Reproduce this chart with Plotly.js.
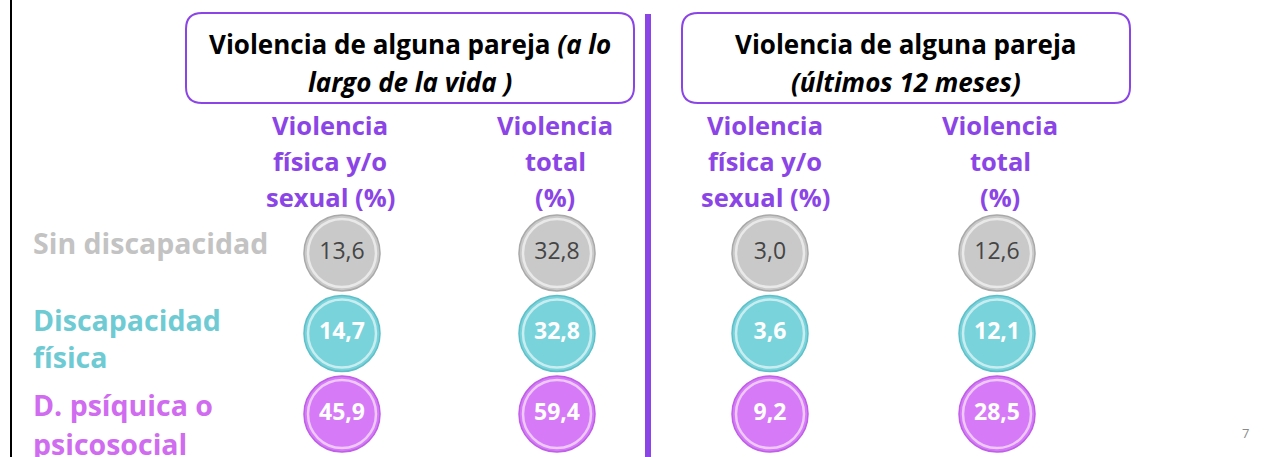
<!DOCTYPE html>
<html><head><meta charset="utf-8">
<script src="https://cdn.plot.ly/plotly-3.0.1.min.js"></script>
<style>html,body{margin:0;padding:0;background:#fff;overflow:hidden}#chart{width:1266px;height:457px}</style>
</head><body><div id="chart"></div>
<script>
// ---- data ----
const rows = ['Sin discapacidad', 'Discapacidad física', 'D. psíquica o psicosocial'];
const rowLabelLines = [['Sin discapacidad'], ['Discapacidad', 'física'], ['D. psíquica o', 'psicosocial']];
const columnKeys = ['fisica', 'total'];
const columnHeaderLines = [['Violencia', 'física y/o', 'sexual (%)'], ['Violencia', 'total', '(%)']];
const panelTitles = [
  ['Violencia de alguna pareja <i>(a lo</i>', '<i>largo de la vida )</i>'],
  ['Violencia de alguna pareja', '<i>(últimos 12 meses)</i>']
];
const lifetimeFisica = [13.6, 14.7, 45.9];
const lifetimeTotal = [32.8, 32.8, 59.4];
const last12Fisica = [3.0, 3.6, 9.2];
const last12Total = [12.6, 12.1, 28.5];
const pageNumber = '7';

// ---- styles ----
const W = 1266, H = 457;
const px = x => x / W, py = y => 1 - y / H;
const FONT = '"Open Sans", Carlito, Calibri, sans-serif';
const PURPLE = '#8b45e6';
const fillColors = ['#c9c9c9', '#78d3db', '#d67af8'];
const rimColors = ['#a9a9a9', '#5fbfc8', '#bf5ee6'];
const textColors = ['#454545', '#ffffff', '#ffffff'];
const labelColors = ['#c3c3c3', '#6ecbd3', '#cf6cf0'];
const labelLineY = [[243], [320, 357], [405, 444]];
const headerShift = [[-12, -2], [-5, 3]];

const fmt = v => v.toFixed(1).replace('.', ',');
const panels = [
  {xa: 'x', series: [lifetimeFisica, lifetimeTotal]},
  {xa: 'x2', series: [last12Fisica, last12Total]}
];

const traces = [];
panels.forEach(p => {
  p.series.forEach((vals, ci) => {
    const xs = rows.map(() => columnKeys[ci]);
    traces.push({
      type: 'scatter', mode: 'markers', xaxis: p.xa, yaxis: 'y', x: xs, y: rows,
      cliponaxis: false, hoverinfo: 'skip',
      marker: {size: 76, color: fillColors, line: {color: rimColors, width: 1.5}}
    });
    traces.push({
      type: 'scatter', mode: 'markers+text', xaxis: p.xa, yaxis: 'y', x: xs, y: rows,
      cliponaxis: false, hoverinfo: 'skip',
      text: vals.map((v, i) => i === 0 ? fmt(v) : '<b>' + fmt(v) + '</b>'),
      textposition: 'middle center',
      textfont: {family: FONT, size: 23, color: textColors},
      marker: {size: 68, color: fillColors, line: {color: 'rgba(255,255,255,0.6)', width: 2.5}}
    });
  });
});

function roundRect(x0, y0, x1, y1, r) {
  const P = (x, y) => px(x).toFixed(5) + ',' + py(y).toFixed(5);
  return 'M' + P(x0 + r, y0) + ' L' + P(x1 - r, y0) + ' Q' + P(x1, y0) + ' ' + P(x1, y0 + r) +
    ' L' + P(x1, y1 - r) + ' Q' + P(x1, y1) + ' ' + P(x1 - r, y1) +
    ' L' + P(x0 + r, y1) + ' Q' + P(x0, y1) + ' ' + P(x0, y1 - r) +
    ' L' + P(x0, y0 + r) + ' Q' + P(x0, y0) + ' ' + P(x0 + r, y0) + ' Z';
}

const boxes = [[186, 13, 634, 103], [682, 13, 1130, 103]];
const shapes = [
  {type: 'line', xref: 'paper', yref: 'paper', x0: px(11), x1: px(11), y0: 0, y1: 1, line: {color: '#000', width: 2}},
  {type: 'rect', xref: 'paper', yref: 'paper', x0: px(645), x1: px(651), y0: 0, y1: py(14), fillcolor: PURPLE, line: {width: 0}}
];
boxes.forEach(b => shapes.push({
  type: 'path', xref: 'paper', yref: 'paper', path: roundRect(b[0], b[1], b[2], b[3], 16),
  line: {color: PURPLE, width: 2}, fillcolor: 'rgba(0,0,0,0)'
}));

const annotations = [];
boxes.forEach((b, bi) => {
  const cx = (b[0] + b[2]) / 2;
  panelTitles[bi].forEach((t, li) => annotations.push({
    xref: 'paper', yref: 'paper', x: px(cx), y: py(44 + li * 38), xanchor: 'center', yanchor: 'middle',
    text: t, showarrow: false, font: {family: FONT, size: 26, color: '#000', weight: 700}
  }));
});
panels.forEach((p, pi) => {
  columnKeys.forEach((k, ci) => columnHeaderLines[ci].forEach((line, li) => annotations.push({
    xref: p.xa, yref: 'paper', x: k, y: py(125 + li * 36), xanchor: 'center', yanchor: 'middle',
    xshift: headerShift[pi][ci], text: line, showarrow: false,
    font: {family: FONT, size: 25.5, color: PURPLE, weight: 700}
  })));
});
rows.forEach((r, i) => rowLabelLines[i].forEach((line, li) => annotations.push({
  xref: 'paper', yref: 'paper', x: px(31), y: py(labelLineY[i][li]), xanchor: 'left', yanchor: 'middle',
  text: line, showarrow: false, align: 'left',
  font: {family: FONT, size: 28.5, color: labelColors[i], weight: 700}
})));
annotations.push({
  xref: 'paper', yref: 'paper', x: px(1245), y: py(433), xanchor: 'center', yanchor: 'middle',
  text: pageNumber, showarrow: false, font: {family: FONT, size: 13, color: '#8a8a8a'}
});

const axBase = {type: 'category', categoryarray: columnKeys, range: [-0.5, 1.5], showgrid: false, zeroline: false,
  showline: false, showticklabels: false, ticks: '', fixedrange: true};
const layout = {
  width: W, height: H, margin: {l: 0, r: 0, t: 0, b: 0}, paper_bgcolor: '#fff', plot_bgcolor: 'rgba(0,0,0,0)',
  showlegend: false, hovermode: false,
  xaxis: Object.assign({}, axBase, {domain: [px(234.5), px(664.5)], anchor: 'y'}),
  xaxis2: Object.assign({}, axBase, {domain: [px(656.5), px(1110.5)], anchor: 'y'}),
  yaxis: {type: 'category', categoryarray: rows, range: [2.5, -0.5], domain: [py(454.25), py(212.75)],
    showgrid: false, zeroline: false, showline: false, showticklabels: false, ticks: '', fixedrange: true},
  shapes: shapes, annotations: annotations
};
Plotly.newPlot('chart', traces, layout, {staticPlot: true, displayModeBar: false});
</script></body></html>
